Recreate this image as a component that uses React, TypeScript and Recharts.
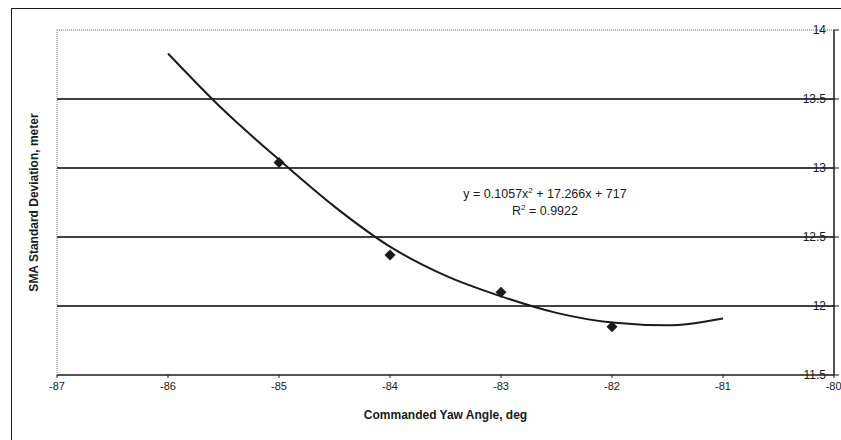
import {
  ComposedChart,
  Line,
  ReferenceLine,
  Scatter,
  XAxis,
  YAxis,
} from "recharts";

// measured points (commanded yaw angle, deg -> SMA std dev, m)
const yawAngles = [-85, -84, -83, -82];
const smaStdDev = [13.04, 12.37, 12.1, 11.85];

// polynomial trendline as it appears on the plot
const trendX = [-86, -85.5, -85, -84.5, -84, -83.5, -83, -82.5, -82, -81.5, -81];
const trendY = [13.83, 13.42, 13.06, 12.72, 12.43, 12.22, 12.07, 11.95, 11.88, 11.86, 11.91];

const xTicks = [-87, -86, -85, -84, -83, -82, -81, -80];
const yTicks = [11.5, 12, 12.5, 13, 13.5, 14];
const gridValues = [12, 12.5, 13, 13.5];

const pointData = yawAngles.map((x, i) => ({ x, y: smaStdDev[i] }));
const trendData = trendX.map((x, i) => ({ x, trend: trendY[i] }));

const FONT = "'Liberation Sans', Arial, sans-serif";
const INK = "#1a1a1a";

function Diamond(props: any) {
  const { cx, cy } = props;
  if (cx == null || cy == null) return null;
  const r = 5.5;
  return (
    <polygon
      points={`${cx},${cy - r} ${cx + r},${cy} ${cx},${cy + r} ${cx - r},${cy}`}
      fill={INK}
    />
  );
}

// right axis labels sit inside the plot, just left of the axis line
function RightTick(props: any) {
  const { x, y, payload } = props;
  return (
    <text
      x={x - 13}
      y={y}
      dy={4}
      textAnchor="end"
      fontSize={12}
      fontFamily={FONT}
      fill={INK}
    >
      {payload.value}
    </text>
  );
}

export default function App() {
  return (
    <div
      style={{
        position: "absolute",
        left: 0,
        top: 0,
        width: 841,
        height: 440,
        background: "#fff",
        overflow: "hidden",
      }}
    >
      {/* outer chart frame (runs off the right/bottom edge) */}
      <div
        style={{
          position: "absolute",
          left: 11,
          top: 8,
          width: 900,
          height: 500,
          borderLeft: `1.5px solid ${INK}`,
          borderTop: `1.5px solid ${INK}`,
        }}
      />
      <ComposedChart
        width={841}
        height={440}
        margin={{ top: 30, right: 0, left: 11, bottom: 15 }}
        style={{ position: "absolute", left: 0, top: 0 }}
      >
        <XAxis
          dataKey="x"
          type="number"
          domain={[-87, -80]}
          ticks={xTicks}
          allowDataOverflow
          height={50}
          tickSize={3}
          tickMargin={4}
          tick={{ fill: INK, fontSize: 11, fontFamily: FONT }}
          axisLine={{ stroke: INK, strokeWidth: 1.5 }}
          tickLine={{ stroke: INK }}
          label={{
            value: "Commanded Yaw Angle, deg",
            position: "insideBottom",
            offset: 6,
            fill: INK,
            fontSize: 12,
            fontWeight: "bold",
            fontFamily: FONT,
          }}
        />
        <YAxis
          yAxisId="left"
          orientation="left"
          type="number"
          domain={[11.5, 14]}
          ticks={yTicks}
          width={46}
          tick={false}
          tickLine={false}
          axisLine={{ stroke: "#777", strokeDasharray: "1 1" }}
          label={{
            value: "SMA Standard Deviation, meter",
            angle: -90,
            position: "center",
            fill: INK,
            fontSize: 12,
            fontWeight: "bold",
            fontFamily: FONT,
          }}
        />
        <YAxis
          yAxisId="right"
          orientation="right"
          type="number"
          domain={[11.5, 14]}
          ticks={yTicks}
          width={7}
          tickSize={5}
          tickMargin={0}
          tick={<RightTick />}
          tickLine={{ stroke: INK }}
          axisLine={{ stroke: INK, strokeWidth: 1.5 }}
        />
        {gridValues.map((v) => (
          <ReferenceLine key={v} yAxisId="right" y={v} stroke="#000" strokeWidth={1.5} />
        ))}
        <ReferenceLine yAxisId="right" y={14} stroke="#666" strokeDasharray="1 1" />
        <Line
          yAxisId="right"
          data={trendData}
          dataKey="trend"
          type="monotone"
          stroke={INK}
          strokeWidth={2}
          dot={false}
          activeDot={false}
          isAnimationActive={false}
        />
        <Scatter
          yAxisId="right"
          data={pointData}
          dataKey="y"
          shape={<Diamond />}
          isAnimationActive={false}
        />
      </ComposedChart>
      <div
        style={{
          position: "absolute",
          left: 435,
          top: 186,
          width: 220,
          textAlign: "center",
          fontFamily: FONT,
          fontSize: 12.5,
          lineHeight: "17px",
          color: INK,
        }}
      >
        <div>
          y = 0.1057x<sup style={{ fontSize: 8, lineHeight: 0 }}>2</sup> + 17.266x + 717
        </div>
        <div>
          R<sup style={{ fontSize: 8, lineHeight: 0 }}>2</sup> = 0.9922
        </div>
      </div>
    </div>
  );
}
